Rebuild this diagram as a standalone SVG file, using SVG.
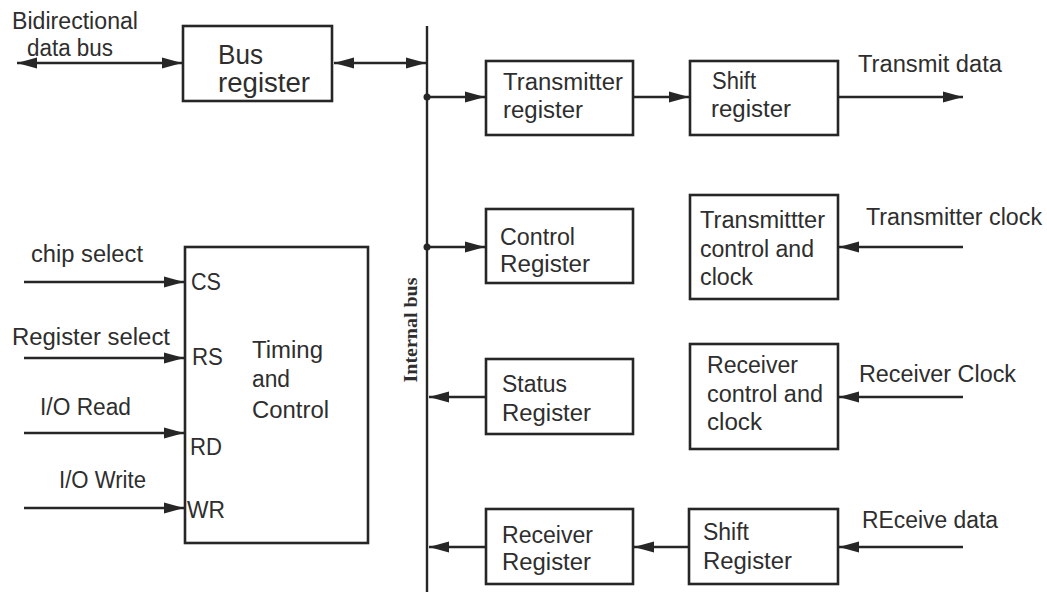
<svg xmlns="http://www.w3.org/2000/svg" width="1047" height="592" viewBox="0 0 1047 592">
<style>
.box{fill:none;stroke:#262626;stroke-width:2.6}
.t{font-family:"Liberation Sans",Arial,sans-serif;font-size:23px;fill:#2e2e2e}
.big{font-size:27px}
.wire{fill:none;stroke:#262626;stroke-width:2.6}
.bus{fill:none;stroke:#262626;stroke-width:2.4}
.lbl{font-family:"Liberation Serif","Times New Roman",serif;font-weight:bold;font-size:19px;fill:#2e2e2e}
</style>
<defs>
<marker id="ah" markerUnits="userSpaceOnUse" markerWidth="20" markerHeight="12" refX="20" refY="6" orient="auto-start-reverse">
<path d="M0,0.5 L20,6 L0,11.5 Z" fill="#262626"/>
</marker>
</defs>
<rect width="1047" height="592" fill="#ffffff"/>

<g id="internal-bus">
<line class="bus" x1="427" y1="26" x2="427" y2="592"/>
<text class="lbl" transform="translate(417,330) rotate(-90)" text-anchor="middle" textLength="105" lengthAdjust="spacingAndGlyphs">Internal bus</text>
</g>

<g id="bus-register">
<rect class="box" x="183" y="26" width="149" height="75"/>
<text class="t big" x="218" y="64" textLength="45" lengthAdjust="spacingAndGlyphs">Bus</text>
<text class="t big" x="218" y="92" textLength="92" lengthAdjust="spacingAndGlyphs">register</text>
</g>

<g id="transmitter-register">
<rect class="box" x="486" y="61" width="147" height="74"/>
<text class="t" x="503" y="90" textLength="120" lengthAdjust="spacingAndGlyphs">Transmitter</text>
<text class="t" x="503" y="118" textLength="80" lengthAdjust="spacingAndGlyphs">register</text>
</g>

<g id="shift-register-tx">
<rect class="box" x="690" y="61" width="148" height="74"/>
<text class="t" x="712" y="89" textLength="44" lengthAdjust="spacingAndGlyphs">Shift</text>
<text class="t" x="711" y="117" textLength="80" lengthAdjust="spacingAndGlyphs">register</text>
</g>

<g id="control-register">
<rect class="box" x="486" y="209" width="147" height="74"/>
<text class="t" x="500" y="245" textLength="75" lengthAdjust="spacingAndGlyphs">Control</text>
<text class="t" x="500" y="272" textLength="90" lengthAdjust="spacingAndGlyphs">Register</text>
</g>

<g id="transmitter-control">
<rect class="box" x="690" y="195" width="148" height="104"/>
<text class="t" x="700" y="228" textLength="125" lengthAdjust="spacingAndGlyphs">Transmittter</text>
<text class="t" x="700" y="257" textLength="114" lengthAdjust="spacingAndGlyphs">control and</text>
<text class="t" x="700" y="285" textLength="53" lengthAdjust="spacingAndGlyphs">clock</text>
</g>

<g id="status-register">
<rect class="box" x="486" y="359" width="147" height="75"/>
<text class="t" x="502" y="392" textLength="65" lengthAdjust="spacingAndGlyphs">Status</text>
<text class="t" x="502" y="421" textLength="89" lengthAdjust="spacingAndGlyphs">Register</text>
</g>

<g id="receiver-control">
<rect class="box" x="690" y="344" width="148" height="105"/>
<text class="t" x="707" y="373" textLength="91" lengthAdjust="spacingAndGlyphs">Receiver</text>
<text class="t" x="707" y="402" textLength="116" lengthAdjust="spacingAndGlyphs">control and</text>
<text class="t" x="707" y="430" textLength="55" lengthAdjust="spacingAndGlyphs">clock</text>
</g>

<g id="receiver-register">
<rect class="box" x="486" y="509" width="147" height="75"/>
<text class="t" x="502" y="543" textLength="91" lengthAdjust="spacingAndGlyphs">Receiver</text>
<text class="t" x="502" y="570" textLength="89" lengthAdjust="spacingAndGlyphs">Register</text>
</g>

<g id="shift-register-rx">
<rect class="box" x="689" y="509" width="149" height="75"/>
<text class="t" x="703" y="540" textLength="46" lengthAdjust="spacingAndGlyphs">Shift</text>
<text class="t" x="703" y="569" textLength="89" lengthAdjust="spacingAndGlyphs">Register</text>
</g>

<g id="timing-and-control">
<rect class="box" x="185" y="247" width="183" height="296"/>
<text class="t" x="191" y="290" textLength="30" lengthAdjust="spacingAndGlyphs">CS</text>
<text class="t" x="192" y="365" textLength="31" lengthAdjust="spacingAndGlyphs">RS</text>
<text class="t" x="190" y="455" textLength="32" lengthAdjust="spacingAndGlyphs">RD</text>
<text class="t" x="187" y="518" textLength="38" lengthAdjust="spacingAndGlyphs">WR</text>
<text class="t" x="252" y="358" textLength="71" lengthAdjust="spacingAndGlyphs">Timing</text>
<text class="t" x="252" y="387" textLength="38" lengthAdjust="spacingAndGlyphs">and</text>
<text class="t" x="252" y="418" textLength="77" lengthAdjust="spacingAndGlyphs">Control</text>
</g>

<g id="external-labels">
<text class="t" x="12" y="29" textLength="126" lengthAdjust="spacingAndGlyphs">Bidirectional</text>
<text class="t" x="27" y="56" textLength="86" lengthAdjust="spacingAndGlyphs">data bus</text>
<text class="t" x="858" y="72" textLength="144" lengthAdjust="spacingAndGlyphs">Transmit data</text>
<text class="t" x="866" y="225" textLength="176" lengthAdjust="spacingAndGlyphs">Transmitter clock</text>
<text class="t" x="859" y="382" textLength="157" lengthAdjust="spacingAndGlyphs">Receiver Clock</text>
<text class="t" x="862" y="528" textLength="136" lengthAdjust="spacingAndGlyphs">REceive data</text>
<text class="t" x="31" y="262" textLength="112" lengthAdjust="spacingAndGlyphs">chip select</text>
<text class="t" x="12" y="345" textLength="158" lengthAdjust="spacingAndGlyphs">Register select</text>
<text class="t" x="40" y="415" textLength="91" lengthAdjust="spacingAndGlyphs">I/O Read</text>
<text class="t" x="59" y="488" textLength="87" lengthAdjust="spacingAndGlyphs">I/O Write</text>
</g>

<g id="connectors">
<line class="wire" x1="17" y1="63" x2="182" y2="63" marker-start="url(#ah)" marker-end="url(#ah)"/>
<line class="wire" x1="334" y1="63" x2="426" y2="63" marker-start="url(#ah)" marker-end="url(#ah)"/>
<line class="wire" x1="427" y1="97" x2="485" y2="97" marker-end="url(#ah)"/>
<line class="wire" x1="633" y1="97" x2="689" y2="97" marker-end="url(#ah)"/>
<line class="wire" x1="838" y1="97" x2="963" y2="97" marker-end="url(#ah)"/>
<line class="wire" x1="427" y1="247" x2="485" y2="247" marker-end="url(#ah)"/>
<line class="wire" x1="963" y1="247" x2="839" y2="247" marker-end="url(#ah)"/>
<line class="wire" x1="486" y1="397" x2="429" y2="397" marker-end="url(#ah)"/>
<line class="wire" x1="963" y1="397" x2="839" y2="397" marker-end="url(#ah)"/>
<line class="wire" x1="486" y1="547" x2="429" y2="547" marker-end="url(#ah)"/>
<line class="wire" x1="689" y1="547" x2="634" y2="547" marker-end="url(#ah)"/>
<line class="wire" x1="963" y1="547" x2="839" y2="547" marker-end="url(#ah)"/>
<line class="wire" x1="24" y1="282" x2="184" y2="282" marker-end="url(#ah)"/>
<line class="wire" x1="24" y1="358" x2="184" y2="358" marker-end="url(#ah)"/>
<line class="wire" x1="24" y1="433" x2="184" y2="433" marker-end="url(#ah)"/>
<line class="wire" x1="24" y1="508" x2="184" y2="508" marker-end="url(#ah)"/>
<circle cx="427" cy="97" r="3.5" fill="#262626"/>
<circle cx="427" cy="247" r="3.5" fill="#262626"/>
</g>
</svg>
